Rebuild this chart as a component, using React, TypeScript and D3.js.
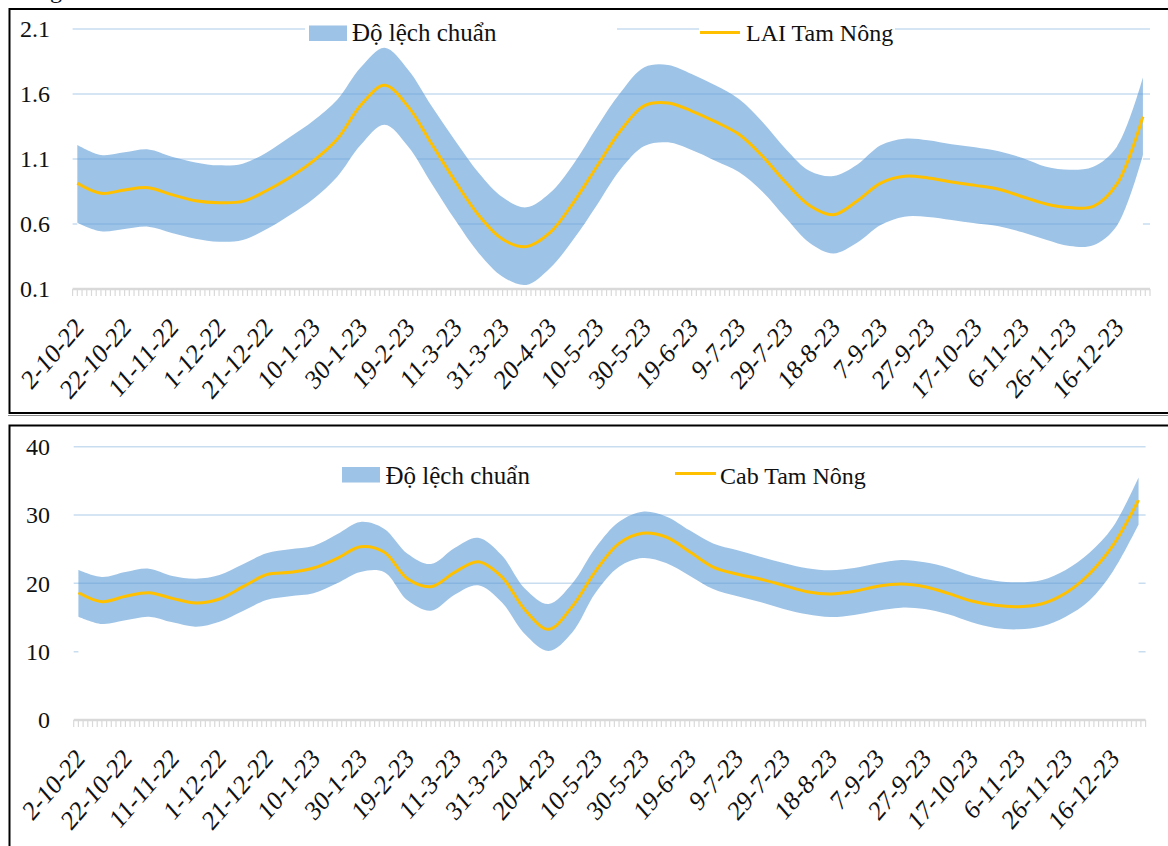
import React from "react";
import * as d3 from "d3";

// ---- data (sample dates every ~10 days) ----
const dates = [
  "2022-09-30", "2022-10-10", "2022-10-20", "2022-10-30", "2022-11-09", "2022-11-19",
  "2022-11-29", "2022-12-09", "2022-12-19", "2022-12-29", "2023-01-08", "2023-01-18",
  "2023-01-28", "2023-02-07", "2023-02-17", "2023-02-27", "2023-03-09", "2023-03-19",
  "2023-03-29", "2023-04-08", "2023-04-18", "2023-04-28", "2023-05-08", "2023-05-18",
  "2023-05-28", "2023-06-07", "2023-06-17", "2023-06-27", "2023-07-07", "2023-07-17",
  "2023-07-27", "2023-08-06", "2023-08-16", "2023-08-26", "2023-09-05", "2023-09-15",
  "2023-09-25", "2023-10-05", "2023-10-15", "2023-10-25", "2023-11-04", "2023-11-14",
  "2023-11-24", "2023-12-04", "2023-12-14", "2023-12-25",
];

const tickDates = [
  "2022-10-02", "2022-10-22", "2022-11-11", "2022-12-01", "2022-12-21", "2023-01-10",
  "2023-01-30", "2023-02-19", "2023-03-11", "2023-03-31", "2023-04-20", "2023-05-10",
  "2023-05-30", "2023-06-19", "2023-07-09", "2023-07-29", "2023-08-18", "2023-09-07",
  "2023-09-27", "2023-10-17", "2023-11-06", "2023-11-26", "2023-12-16",
];

const laiMean = [
  0.913, 0.836, 0.862, 0.879, 0.826, 0.779, 0.764, 0.774, 0.856, 0.959, 1.087, 1.254,
  1.515, 1.667, 1.503, 1.215, 0.926, 0.664, 0.482, 0.426, 0.533, 0.767, 1.046, 1.321,
  1.51, 1.531, 1.469, 1.387, 1.29, 1.121, 0.915, 0.741, 0.672, 0.777, 0.915, 0.967,
  0.954, 0.923, 0.897, 0.867, 0.81, 0.754, 0.726, 0.736, 0.908, 1.426,
];
const laiUpper = [
  1.208, 1.131, 1.151, 1.174, 1.118, 1.074, 1.051, 1.064, 1.149, 1.269, 1.397, 1.556,
  1.805, 1.956, 1.787, 1.505, 1.238, 0.99, 0.805, 0.728, 0.838, 1.062, 1.349, 1.613,
  1.805, 1.823, 1.754, 1.667, 1.562, 1.385, 1.174, 1.008, 0.969, 1.056, 1.205, 1.256,
  1.244, 1.213, 1.19, 1.159, 1.108, 1.041, 1.018, 1.041, 1.195, 1.726,
];
const laiLower = [
  0.61, 0.544, 0.562, 0.579, 0.531, 0.487, 0.464, 0.477, 0.559, 0.669, 0.795, 0.964,
  1.21, 1.364, 1.197, 0.91, 0.628, 0.374, 0.195, 0.131, 0.259, 0.482, 0.749, 1.023,
  1.2, 1.228, 1.169, 1.087, 1.0, 0.849, 0.644, 0.454, 0.374, 0.456, 0.592, 0.656,
  0.654, 0.631, 0.605, 0.582, 0.536, 0.479, 0.431, 0.436, 0.587, 1.131,
];

const cabMean = [
  18.63, 17.32, 18.1, 18.63, 17.8, 17.12, 17.71, 19.51, 21.27, 21.61, 22.24, 23.66,
  25.37, 24.59, 20.68, 19.51, 21.61, 23.17, 20.98, 16.1, 13.27, 16.59, 21.8, 25.85,
  27.32, 26.78, 24.63, 22.39, 21.37, 20.63, 19.71, 18.78, 18.44, 18.83, 19.56, 19.9,
  19.51, 18.54, 17.41, 16.78, 16.59, 17.02, 18.59, 21.37, 25.51, 32.2,
];
const cabUpper = [
  21.95, 20.93, 21.66, 22.15, 21.07, 20.68, 21.22, 22.78, 24.39, 24.98, 25.46, 27.17,
  28.98, 28.0, 24.34, 22.83, 25.17, 26.68, 24.15, 19.22, 16.98, 19.95, 25.22, 29.02,
  30.49, 29.8, 27.76, 25.85, 24.88, 23.9, 22.98, 22.2, 21.9, 22.24, 22.93, 23.41,
  23.07, 22.29, 21.12, 20.39, 20.15, 20.49, 21.95, 24.44, 28.2, 35.51,
];
const cabLower = [
  15.12, 14.05, 14.59, 15.12, 14.29, 13.66, 14.39, 15.95, 17.56, 18.1, 18.54, 20.0,
  21.66, 21.66, 17.51, 16.0, 18.34, 19.71, 17.27, 12.54, 10.1, 12.78, 18.63, 22.44,
  23.71, 22.98, 21.12, 19.17, 18.15, 17.27, 16.24, 15.46, 15.07, 15.37, 16.0, 16.44,
  16.24, 15.46, 14.29, 13.46, 13.27, 13.71, 15.12, 17.46, 21.71, 28.63,
];

const laiTicks = [0.1, 0.6, 1.1, 1.6, 2.1];
const cabTicks = [0, 10, 20, 30, 40];

const sdLabel = "Độ lệch chuẩn";
const laiLabel = "LAI Tam Nông";
const cabLabel = "Cab Tam Nông";

const axisStart = "2022-09-28";
const axisEnd = "2023-12-28";

const FONT = "'Liberation Serif', 'Times New Roman', serif";
const BAND = "#5B9BD5";
const BAND_OP = 0.6;
const LINE = "#FFC000";
const GRID = "#C9DDF0";
const AXIS = "#D9D9D9";

const parse = d3.utcParse("%Y-%m-%d");
const fmtLabel = d3.utcFormat("%-d-%-m-%y");

type Legend = {
  boxX: number; boxY: number; textX: number; base: number;
  lineX1: number; lineX2: number; lineY: number; text2X: number;
  bg?: [number, number][];
};

type Props = {
  left: number; right: number; top: number; bottom: number;
  yDomain: [number, number]; yTicks: number[]; yFmt: (v: number) => string;
  mean: number[]; lower: number[]; upper: number[];
  label: string; legend: Legend;
};

function BandChart(p: Props) {
  const x = d3.scaleUtc().domain([parse(axisStart)!, parse(axisEnd)!]).range([p.left, p.right]);
  const y = d3.scaleLinear().domain(p.yDomain).range([p.bottom, p.top]);
  const pts = dates.map((d, i) => ({
    x: x(parse(d)!), m: p.mean[i], lo: p.lower[i], hi: p.upper[i],
  }));
  const curve = d3.curveCatmullRom.alpha(0.5);
  const whiteArea = d3.area<any>().x((d) => d.x).y0(p.bottom).y1((d) => y(d.lo)).curve(curve);
  const bandArea = d3.area<any>().x((d) => d.x).y0((d) => y(d.lo)).y1((d) => y(d.hi)).curve(curve);
  const meanLine = d3.line<any>().x((d) => d.x).y((d) => y(d.m)).curve(curve);
  const minor = d3.utcDay.range(parse(axisStart)!, d3.utcDay.offset(parse(axisEnd)!, 1), 2);
  const axisY = p.bottom;
  const L = p.legend;
  return (
    <g>
      {p.yTicks.slice(1).map((t) => (
        <line key={"g" + t} x1={p.left} x2={p.right} y1={y(t)} y2={y(t)} stroke={GRID} strokeWidth={1.5} />
      ))}
      <path d={whiteArea(pts) || ""} fill="#ffffff" />
      <path d={bandArea(pts) || ""} fill={BAND} fillOpacity={BAND_OP} />
      <path d={meanLine(pts) || ""} fill="none" stroke={LINE} strokeWidth={3} strokeLinejoin="round" />
      {/* axis */}
      <line x1={p.left} x2={p.right} y1={axisY} y2={axisY} stroke={AXIS} strokeWidth={2.5} />
      {minor.map((d, i) => (
        <line key={"t" + i} x1={x(d)} x2={x(d)} y1={axisY} y2={axisY + 7} stroke={AXIS} strokeWidth={1.2} />
      ))}
      {p.yTicks.map((t) => (
        <text key={"y" + t} x={50} y={y(t)} dy="0.35em" textAnchor="end" fontSize={24} fontFamily={FONT} fill="#111">
          {p.yFmt(t)}
        </text>
      ))}
      {tickDates.map((s) => {
        const d = parse(s)!;
        const tx = x(d) + 3;
        const ty = axisY + 40;
        return (
          <text key={"x" + s} transform={`translate(${tx},${ty}) scale(1,1.15) rotate(-45)`} textAnchor="end" fontSize={24} fontFamily={FONT} fill="#111">
            {fmtLabel(d)}
          </text>
        );
      })}
      {/* legend */}
      {(L.bg || []).map(([a, b], i) => (
        <rect key={"bg" + i} x={a} y={L.base - 23} width={b - a} height={28} fill="#ffffff" />
      ))}
      <rect x={L.boxX} y={L.boxY} width={38} height={15.5} fill={BAND} fillOpacity={BAND_OP} />
      <text x={L.textX} y={L.base} fontSize={25} fontFamily={FONT} fill="#111">{sdLabel}</text>
      <line x1={L.lineX1} x2={L.lineX2} y1={L.lineY} y2={L.lineY} stroke={LINE} strokeWidth={3} />
      <text x={L.text2X} y={L.base} fontSize={24} fontFamily={FONT} fill="#111">{p.label}</text>
    </g>
  );
}

export default function App() {
  return (
    <svg
      width={1168}
      height={846}
      viewBox="0 0 1168 846"
      style={{ position: "absolute", left: 0, top: 0, display: "block", background: "#fff" }}
    >
      <rect x={0} y={0} width={1168} height={846} fill="#ffffff" />
      <text x={50} y={-2} fontSize={24} fontFamily={FONT} fill="#111">g</text>
      {/* frames */}
      <rect x={9.5} y={9} width={1170} height={404} fill="none" stroke="#000" strokeWidth={2} />
      <line x1={8} x2={1168} y1={415.5} y2={415.5} stroke="#8a8a8a" strokeWidth={1} />
      <rect x={9.5} y={425.5} width={1170} height={440} fill="none" stroke="#000" strokeWidth={2} />
      <BandChart
        left={72.6} right={1150} top={29} bottom={289}
        yDomain={[0.1, 2.1]} yTicks={laiTicks} yFmt={(v) => v.toFixed(1)}
        mean={laiMean} lower={laiLower} upper={laiUpper} label={laiLabel}
        legend={{
          boxX: 309, boxY: 25.5, textX: 352, base: 41,
          lineX1: 700, lineX2: 740, lineY: 32.5, text2X: 746,
          bg: [[305, 617], [699, 895]],
        }}
      />
      <BandChart
        left={73.7} right={1145.6} top={446.7} bottom={720}
        yDomain={[0, 40]} yTicks={cabTicks} yFmt={(v) => String(v)}
        mean={cabMean} lower={cabLower} upper={cabUpper} label={cabLabel}
        legend={{
          boxX: 342, boxY: 467, textX: 385.5, base: 483.5,
          lineX1: 675, lineX2: 716, lineY: 473.5, text2X: 720,
        }}
      />
    </svg>
  );
}
